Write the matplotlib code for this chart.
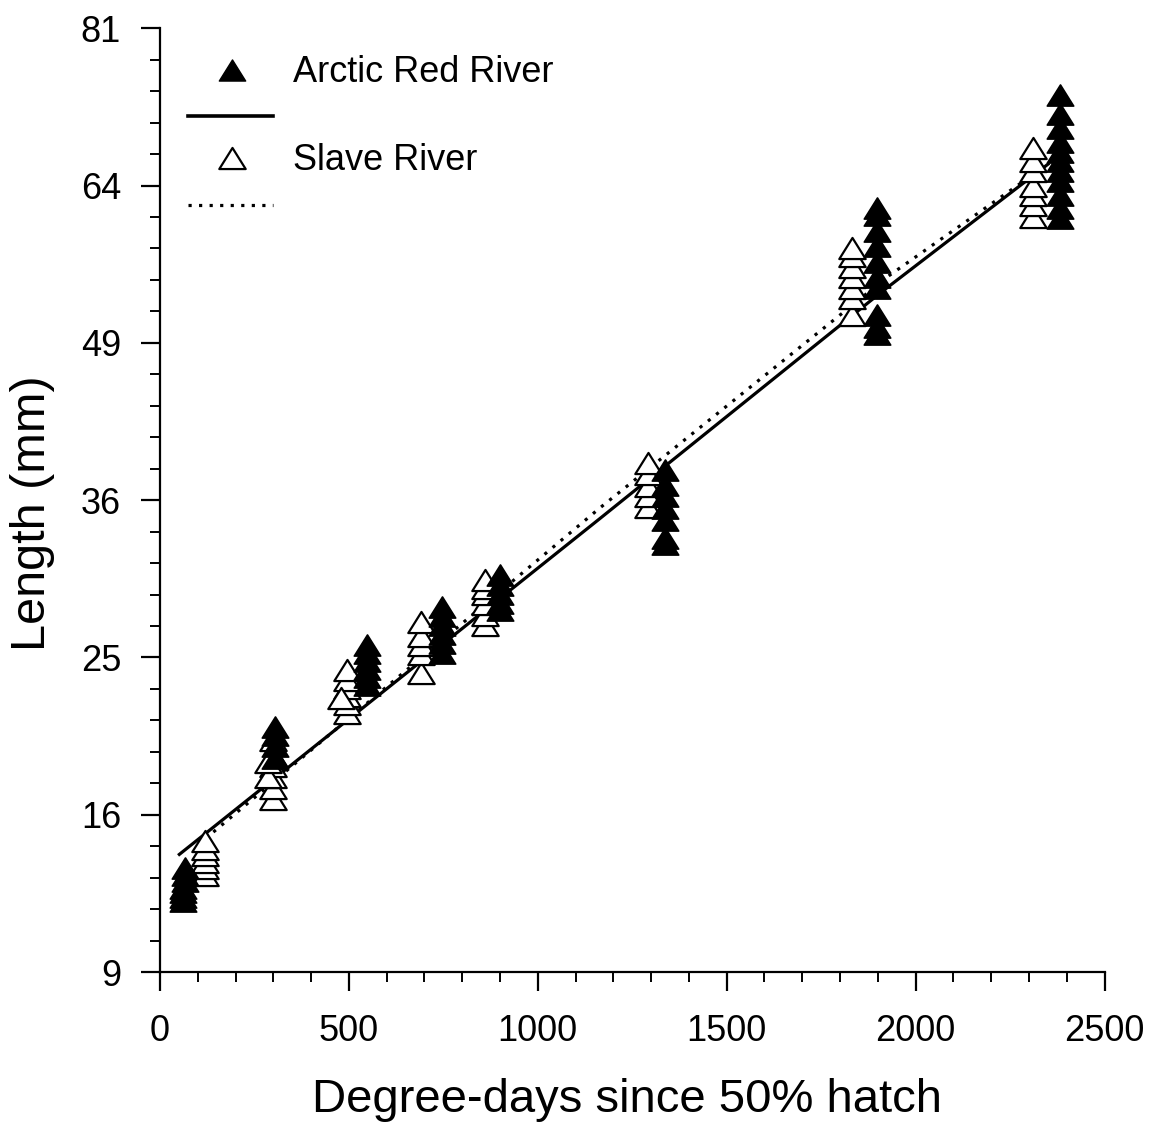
import numpy as np
import matplotlib
matplotlib.use("Agg")
import matplotlib.pyplot as plt
from matplotlib.lines import Line2D
from matplotlib.path import Path
from matplotlib.ticker import FixedLocator, MultipleLocator

plt.rcParams['font.family'] = ['Liberation Sans', 'DejaVu Sans']

# -----------------------------
# Data
# -----------------------------
arctic_x = [60, 60, 60, 60, 66, 66, 66,
            305, 305, 305, 305,
            548, 548, 548, 548, 548, 548,
            746, 746, 746, 746, 746, 746,
            899, 899, 899, 899, 899,
            1336, 1336, 1336, 1336, 1336, 1336, 1336,
            1897, 1897, 1897, 1897, 1897, 1897, 1897, 1897, 1897, 1897,
            2381, 2381, 2381, 2381, 2381, 2381, 2381, 2381, 2381, 2381, 2381]
arctic_len = [11.9, 12.1, 12.3, 12.5, 12.8, 13.1, 13.4,
              20.8, 20.3, 19.7, 19.0,
              23.3, 23.8, 24.3, 24.8, 25.3, 25.8,
              25.3, 25.9, 26.5, 27.1, 27.7, 28.3,
              28.1, 28.6, 29.2, 29.8, 30.5,
              32.7, 33.2, 34.5, 35.4, 36.3, 37.2, 38.3,
              49.8, 50.4, 51.5, 54.0, 55.0, 56.5, 58.0, 59.5, 61.0, 61.7,
              60.7, 61.7, 63.0, 64.5, 65.5, 66.5, 67.5, 68.5, 70.0, 71.5, 73.5]

slave_x = [120, 120, 120, 120, 120, 120,
           300, 300, 300, 300, 300, 300, 285, 285,
           495, 495, 495, 495, 495, 495, 480,
           690, 690, 690, 690, 690,
           860, 860, 860, 860, 860, 860,
           1291, 1291, 1291, 1291, 1291,
           1831, 1831, 1831, 1831, 1831, 1831, 1831,
           2310, 2310, 2310, 2310, 2310, 2310, 2310]
slave_len = [13.1, 13.4, 13.7, 14.0, 14.3, 14.7,
             16.8, 17.4, 18.0, 18.6, 19.2, 20.0, 18.0, 18.8,
             21.6, 22.1, 22.6, 23.1, 23.6, 24.2, 22.5,
             24.0, 25.2, 25.8, 26.4, 27.3,
             27.1, 27.8, 28.5, 29.2, 29.6, 30.2,
             35.5, 36.3, 37.1, 38.0, 38.9,
             51.5, 53.1, 54.0, 55.0, 56.0, 57.0, 57.8,
             60.8, 62.0, 63.0, 64.0, 65.5, 66.5, 67.9]

# fitted lines, points
arctic_fit_x = [48, 1164, 1905, 2354]
arctic_fit_len = [14.0, 34.6, 53.5, 66.3]
slave_fit_x = [120, 1164, 1931, 2310]
slave_fit_len = [14.8, 35.4, 55.2, 65.1]

x_ticks = [0, 500, 1000, 1500, 2000, 2500]
y_ticks = [9, 16, 25, 36, 49, 64, 81]

# -----------------------------
# Figure
# -----------------------------
fig = plt.figure(figsize=(11.59, 11.29), dpi=100)
ax = fig.add_axes([0.138, 0.139, 0.815, 0.836])

ax.set_yscale('function', functions=(np.sqrt, np.square))
ax.set_xlim(0, 2500)
ax.set_ylim(9, 81)

# slightly squat closed triangle marker
tri = Path([(-1, -0.8), (1, -0.8), (0, 0.8), (-1, -0.8)],
           [Path.MOVETO, Path.LINETO, Path.LINETO, Path.CLOSEPOLY])

ax.plot(arctic_fit_x, arctic_fit_len, color='black', lw=2.3, solid_capstyle='butt', zorder=2)
ax.plot(slave_fit_x, slave_fit_len, color='black', lw=2.3, linestyle=(0, (1, 2.3)), zorder=2)

ax.plot(slave_x, slave_len, linestyle='none', marker=tri, ms=19,
        markerfacecolor='white', markeredgecolor='black', markeredgewidth=1.6, zorder=3)
ax.plot(arctic_x, arctic_len, linestyle='none', marker=tri, ms=19,
        markerfacecolor='black', markeredgecolor='black', markeredgewidth=1.2, zorder=4)

# axes styling
for s in ['top', 'right']:
    ax.spines[s].set_visible(False)
for s in ['left', 'bottom']:
    ax.spines[s].set_linewidth(1.6)

ax.xaxis.set_major_locator(FixedLocator(x_ticks))
ax.xaxis.set_minor_locator(MultipleLocator(100))
ax.yaxis.set_major_locator(FixedLocator(y_ticks))
ax.yaxis.set_minor_locator(FixedLocator([(3 + 0.2 * k) ** 2 for k in range(31)]))
ax.set_yticklabels([str(v) for v in y_ticks])
ax.set_xticklabels([str(v) for v in x_ticks])

ax.tick_params(which='major', direction='out', length=14, width=1.6, labelsize=26, pad=14)
ax.tick_params(which='minor', direction='out', length=7, width=1.4)
ax.tick_params(axis='x', which='major', pad=16)

ax.set_xlabel("Degree-days since 50% hatch", fontsize=34)
ax.set_ylabel("Length (mm)", fontsize=35)
ax.xaxis.label.set_va('center')
ax.yaxis.label.set_va('center')
ax.xaxis.set_label_coords(0.494, -0.136)
ax.yaxis.set_label_coords(-0.135, 0.486)

# legend drawn by hand in axes coordinates
tr = ax.transAxes
ax.add_line(Line2D([0.0762], [0.9555], transform=tr, marker=tri, ms=19, linestyle='none',
                   markerfacecolor='black', markeredgecolor='black', clip_on=False))
ax.text(0.1407, 0.9534, "Arctic Red River", transform=tr, fontsize=26, va='center', ha='left')
ax.add_line(Line2D([0.0296, 0.1196], [0.9068, 0.9068], transform=tr, color='black', lw=2.6,
                   clip_on=False))
ax.add_line(Line2D([0.0762], [0.8623], transform=tr, marker=tri, ms=19, linestyle='none',
                   markerfacecolor='white', markeredgecolor='black', markeredgewidth=1.6,
                   clip_on=False))
ax.text(0.1407, 0.8602, "Slave River", transform=tr, fontsize=26, va='center', ha='left')
ax.add_line(Line2D([0.0296, 0.1196], [0.8125, 0.8125], transform=tr, color='black', lw=2.3,
                   linestyle=(0, (1, 2.3)), clip_on=False))

fig.savefig("out.png", dpi=100)
plt.close(fig)
